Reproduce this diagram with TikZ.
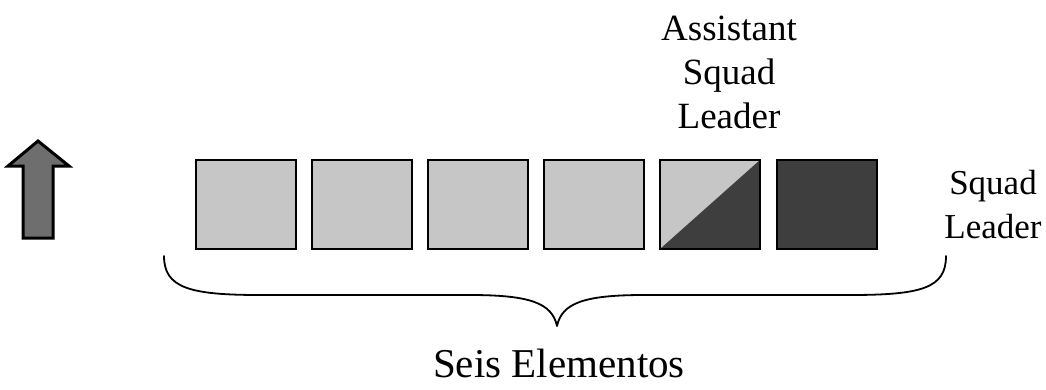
\documentclass[tikz,border=0pt]{standalone}
\usepackage{fontspec}
\setmainfont{Liberation Serif}
\definecolor{lightfill}{HTML}{C6C6C6}
\definecolor{darkfill}{HTML}{3E3E3E}
\definecolor{arrowfill}{HTML}{6E6E6E}
\tikzset{
  soldier/.style={draw=black, line width=2.6pt, minimum width=100pt, minimum height=89pt,
                  inner sep=0pt, outer sep=0pt, anchor=north west},
  member/.style={soldier, fill=lightfill},
  chief/.style={soldier, fill=darkfill},
  assistant/.style={soldier, fill=lightfill,
    path picture={\fill[darkfill] (path picture bounding box.south west)
       -- (path picture bounding box.south east)
       -- (path picture bounding box.north east) -- cycle;}},
  caption/.style={font=\fontsize{37}{44}\selectfont, align=center, inner sep=0pt},
  brace/.style={draw=black, line width=1.8pt, line join=round, line cap=round}
}
\begin{document}
\begin{tikzpicture}[x=1pt, y=-1pt]
  \path[use as bounding box] (0,0) rectangle (1046,389);

  % direction of march
  \draw[fill=arrowfill, line width=3pt, line join=miter]
    (38,141) -- (69,166) -- (53,166) -- (53,238) -- (23,238) -- (23,166) -- (8,166) -- cycle;

  % six elements of the squad
  \node[member]    (e1) at (196,160) {};
  \node[member]    (e2) at (312,160) {};
  \node[member]    (e3) at (428,160) {};
  \node[member]    (e4) at (544,160) {};
  \node[assistant] (e5) at (660,160) {};
  \node[chief]     (e6) at (777,160) {};

  % labels
  \node[caption] (asl) at (729,72) {Assistant\\Squad\\Leader};
  \node[caption, font=\fontsize{35}{44}\selectfont] (sl) at (993,205) {Squad\\Leader};

  % brace under the squad
  \coordinate (bl) at (164,256);
  \coordinate (bt) at (557,326);
  \coordinate (br) at (946,256);
  \draw[brace] (bl) .. controls (164,288) and (190,295) .. (260,295)
    -- (470,295) .. controls (530,295) and (552,303) .. (bt)
    .. controls (562,303) and (584,295) .. (644,295)
    -- (850,295) .. controls (922,295) and (946,288) .. (br);

  \node[caption, font=\fontsize{41}{44}\selectfont] (six) at (559,363) {Seis Elementos};
\end{tikzpicture}
\end{document}
